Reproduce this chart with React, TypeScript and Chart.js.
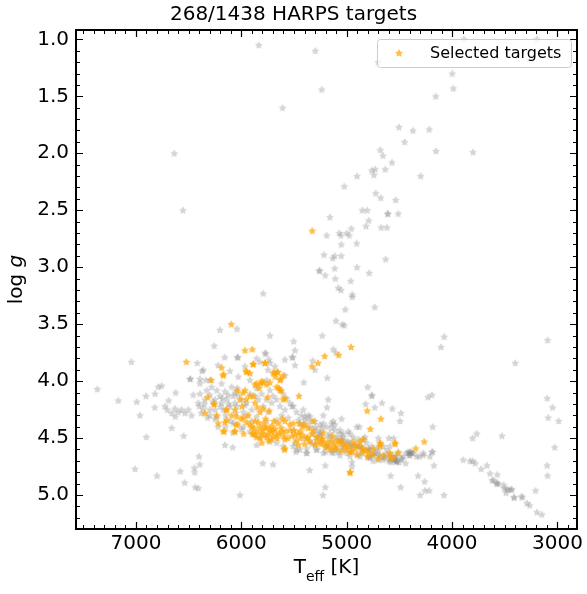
import React, { useEffect, useRef } from 'react';
import { Chart, registerables } from 'chart.js';

Chart.register(...registerables);

const TITLE = '268/1438 HARPS targets';
const LEGEND_LABEL = 'Selected targets';
const X_TITLE_MAIN = 'T';
const X_TITLE_SUB = 'eff';
const X_TITLE_UNIT = ' [K]';
const Y_TITLE_MAIN = 'log ';
const Y_TITLE_ITALIC = 'g';

const xMajorTicks = [7000, 6000, 5000, 4000, 3000];
const yMajorTicks = [1.0, 1.5, 2.0, 2.5, 3.0, 3.5, 4.0, 4.5, 5.0];
const xRange = [2814, 7569];
const yRange = [0.918, 5.298];
const xMinorStep = 100;
const yMinorStep = 0.1;

// [Teff, log g] of all HARPS targets (grey)
const allTargets: [number, number][] = [
  // giants / subgiants
  [5835, 1.05], [5298, 1.10], [5608, 1.60], [6636, 2.00], [6554, 2.50], [5260, 3.03], [5792, 3.23],
  [5237, 1.44], [4700, 1.20], [3887, 1.00], [3197, 1.00], [3998, 1.30], [3988, 1.43], [4155, 1.50],
  [4504, 1.77], [4371, 1.80], [4216, 1.79], [4450, 1.90], [4681, 1.97], [4656, 2.02], [4153, 1.98],
  [3801, 1.99], [4570, 2.08], [4763, 2.15], [4729, 2.14], [4634, 2.14], [4741, 2.19], [4902, 2.20],
  [4298, 2.20], [5023, 2.29], [4725, 2.35], [4677, 2.39], [4535, 2.41], [5159, 2.56], [4852, 2.50],
  [4805, 2.50], [4608, 2.53], [4612, 2.53], [4510, 2.53], [4791, 2.59], [4817, 2.64], [4672, 2.65],
  [4618, 2.65], [4956, 2.66], [5190, 2.72], [5070, 2.70], [5054, 2.72], [5000, 2.70], [4975, 2.72],
  [5051, 2.80], [4905, 2.79], [5215, 2.89], [5133, 2.92], [5114, 2.90], [5051, 2.90], [4630, 2.93],
  [5257, 3.03], [5203, 3.07], [5114, 3.01], [5108, 3.10], [4902, 3.00], [4786, 3.05], [4962, 3.12],
  [5080, 3.18], [5054, 3.20], [4947, 3.24], [4947, 3.26], [5013, 3.37], [4734, 3.35], [5102, 3.47],
  [5042, 3.50], [5023, 3.51], [5232, 3.60], [5503, 3.65], [5491, 3.73], [5516, 3.79], [5127, 3.72],
  [5102, 3.75], [5323, 3.82], [5301, 3.90], [5408, 4.01], [5184, 3.97], [5519, 4.22], [5175, 4.16],
  [5187, 4.23], [5048, 4.33], [4105, 3.70], [4074, 3.61], [3400, 3.84], [3093, 3.64], [3097, 4.15],
  [3046, 4.23], [3087, 4.32], [2988, 4.35], [3026, 4.58], [3097, 4.74], [3093, 4.83],
  // cool side of the main sequence
  [4801, 4.05], [4763, 4.13], [4760, 4.12], [4820, 4.20], [4734, 4.23], [4665, 4.19], [4567, 4.24],
  [4485, 4.28], [4494, 4.35], [4905, 4.40], [4880, 4.40], [4229, 4.14], [4191, 4.12], [4184, 4.40],
  [4700, 4.50], [4599, 4.50], [4554, 4.50], [4406, 4.63], [4311, 4.66], [4273, 4.65], [4188, 4.62],
  [4172, 4.74], [4323, 4.83], [4260, 4.88], [4302, 5.00], [4257, 4.96], [4216, 4.96], [4077, 5.00],
  [4488, 4.93], [4583, 4.83], [4532, 4.70], [4950, 4.71], [4950, 4.75], [5203, 4.74], [5351, 4.78],
  [5203, 4.93], [5225, 5.00], [5380, 4.63], [4399, 4.62], [4368, 4.63], [4406, 4.65], [4526, 4.71],
  [4580, 4.71], [4187, 4.62],
  // M dwarfs
  [3894, 4.69], [3830, 4.70], [3805, 4.70], [3780, 4.72], [3805, 4.50], [3766, 4.46], [3526, 4.48],
  [3723, 4.77], [3669, 4.74], [3640, 4.81], [3571, 4.82], [3609, 4.87], [3618, 4.87], [3577, 4.89],
  [3574, 4.90], [3561, 4.90], [3510, 4.91], [3504, 4.94], [3482, 4.95], [3463, 4.95], [3441, 4.95],
  [3431, 4.95], [3488, 4.98], [3412, 5.02], [3409, 5.02], [3333, 5.02], [3340, 5.01], [3289, 5.07],
  [3264, 5.09], [3207, 4.96], [3194, 5.15], [3147, 5.17],
  // hot side
  [7367, 4.07], [7168, 4.17], [6993, 4.18], [6962, 4.30], [6905, 4.13], [6819, 4.11], [6788, 4.05],
  [6756, 4.04], [6822, 4.23], [6690, 4.17], [6623, 4.10], [6703, 4.25], [6627, 4.31], [6661, 4.41],
  [6902, 4.49], [6547, 4.48], [7009, 4.77], [6800, 4.83], [6579, 4.79], [6538, 4.89], [6446, 4.76],
  [6443, 4.80], [6402, 4.66], [6395, 4.73], [6437, 4.93], [6408, 4.94], [6013, 5.00], [6155, 4.56],
  [6082, 4.58], [5797, 4.72], [5699, 4.73], [6487, 3.98], [6392, 3.98], [6338, 3.99], [6373, 3.91],
  [6221, 3.86], [7044, 3.83], [6418, 3.84], [6158, 3.79], [6038, 3.79], [6032, 3.79], [6257, 3.69],
  [5769, 3.76], [5737, 3.81], [5728, 3.60], [6202, 3.55], [6041, 3.54], [5773, 3.75], [6361, 3.90],
  [6484, 3.98], [5823, 3.83], [5747, 3.90], [5586, 3.95], [5513, 3.79], [5491, 3.86],
  // main sequence cluster
  [6630, 4.24], [6661, 4.28], [6566, 4.25], [6535, 4.28], [6472, 4.30], [6456, 4.12], [6393, 4.11],
  [6345, 4.16], [6329, 4.08], [6282, 4.05], [6234, 4.08], [6203, 4.13], [6155, 4.09], [6139, 4.16],
  [6092, 4.05], [6076, 4.13], [6060, 4.19], [6038, 4.06], [5997, 4.16], [5950, 4.19], [5918, 4.11],
  [5871, 4.13], [5855, 4.06], [5807, 4.11], [5760, 4.16], [5728, 4.08], [5697, 4.13], [5665, 4.16],
  [5602, 4.11], [5570, 4.15], [5539, 4.19], [5507, 4.22], [5475, 4.27], [5428, 4.30], [5396, 4.34],
  [5349, 4.31], [5301, 4.35], [5254, 4.38], [5222, 4.37], [5191, 4.40], [5143, 4.41], [5112, 4.38],
  [5064, 4.43], [5032, 4.46], [4985, 4.44], [4938, 4.49], [4890, 4.51], [4843, 4.51], [4811, 4.54],
  [4764, 4.57], [4716, 4.59], [4653, 4.57], [4590, 4.63], [4542, 4.66], [4511, 4.62], [4463, 4.66],
  [4384, 4.62], [4337, 4.66], [4273, 4.63], [4210, 4.66], [5855, 4.56], [5482, 4.62], [4969, 4.57],
  [5365, 4.30],
  [6298, 4.12], [6250, 4.16], [6187, 4.19], [6124, 4.12], [6029, 4.12], [5965, 4.21], [5902, 4.25],
  [5839, 4.16], [5792, 4.22], [5744, 4.27], [5712, 4.19], [5633, 4.22], [5618, 4.30], [5586, 4.25],
  [5554, 4.32], [5459, 4.34], [5412, 4.38], [5349, 4.40], [5286, 4.43], [5254, 4.46], [5159, 4.46],
  [5096, 4.49], [5048, 4.51], [5001, 4.53], [4906, 4.56], [4859, 4.59], [4795, 4.60], [4732, 4.63],
  [4684, 4.65], [4621, 4.60], [4574, 4.67], [4479, 4.68], [4432, 4.63], [4400, 4.65], [4590, 4.57],
  [4827, 4.49], [4969, 4.46], [5127, 4.35], [5222, 4.30], [5412, 4.25], [5665, 4.34], [5760, 4.35],
  [5855, 4.31], [5981, 4.27], [6045, 4.22], [6108, 4.22], [6171, 4.25], [6250, 4.25], [6298, 4.30],
  [6361, 4.24], [6408, 4.19], [6503, 4.25], [6598, 4.27], [6725, 4.22], [6234, 4.31], [6076, 4.37],
  [5981, 4.40], [5918, 4.44], [5823, 4.49], [5728, 4.53], [5665, 4.54], [5602, 4.57], [5507, 4.57],
  [5444, 4.60], [5380, 4.59], [5286, 4.60], [5222, 4.63], [5143, 4.62], [5064, 4.65], [4969, 4.66],
  [4874, 4.66], [4779, 4.67], [4653, 4.69], [4526, 4.70], [6029, 3.96], [6108, 3.91], [5965, 3.87],
  [5855, 3.80], [5728, 3.84], [5681, 3.87], [5586, 3.81], [5760, 3.99], [5918, 3.99], [6187, 4.02],
  [6298, 3.99], [6393, 4.02],
  [5400, 4.50], [5350, 4.52], [5300, 4.55], [5250, 4.53], [5200, 4.56], [5150, 4.58], [5100, 4.60],
  [5050, 4.57], [5000, 4.63], [4950, 4.60], [4900, 4.65], [4850, 4.63], [4800, 4.67], [4750, 4.65],
  [4700, 4.69], [4650, 4.67], [4600, 4.70], [4550, 4.69], [4500, 4.71], [5250, 4.48], [5150, 4.50],
  [5050, 4.52], [4960, 4.55], [4880, 4.58], [4780, 4.60], [4700, 4.61], [4620, 4.64], [4560, 4.66],
  [4480, 4.68], [4440, 4.72],
  [5506, 4.43], [5443, 4.37], [5396, 4.31], [5348, 4.35], [5317, 4.46], [5285, 4.49], [5237, 4.41],
  [5143, 4.37], [5111, 4.43], [5064, 4.46], [5032, 4.49], [4984, 4.53], [4937, 4.56], [4890, 4.57],
  [4842, 4.59], [4795, 4.60], [4747, 4.63], [4700, 4.65], [4637, 4.66], [4589, 4.68], [4542, 4.69],
  [4526, 4.66], [5475, 4.60], [5491, 4.54], [5380, 4.63], [5285, 4.60], [5190, 4.57], [5127, 4.63],
  [5032, 4.60], [4779, 4.66], [4747, 4.70], [4384, 4.63], [4415, 4.62],
  [6350, 4.20], [6300, 4.25], [6250, 4.33], [6200, 4.22], [6150, 4.30], [6100, 4.35], [6050, 4.28],
  [6320, 4.32], [6270, 4.18], [6220, 4.40], [6180, 4.15], [6120, 4.20], [6060, 4.10], [6400, 4.22],
  [6380, 4.28], [6150, 4.40], [6080, 4.45], [6000, 4.42], [5950, 4.30], [5900, 4.35], [5300, 4.40],
  [5250, 4.45], [5180, 4.48], [5100, 4.52], [5030, 4.55], [5330, 4.55], [5200, 4.62], [5080, 4.62],
];

// [Teff, log g] of the selected targets (orange)
const selectedTargets: [number, number][] = [
  [5327, 2.68], [6095, 3.50], [5965, 3.73], [5896, 3.72], [6522, 3.83], [6187, 3.88], [6168, 3.94],
  [5956, 3.91], [5886, 3.85], [5776, 3.84], [5656, 3.92], [5624, 3.98], [4959, 3.70], [5076, 3.77],
  [5209, 3.78], [5272, 3.84], [5329, 3.87], [5453, 4.13], [4805, 4.26], [4675, 4.33], [4776, 4.42],
  [4539, 4.55], [4345, 4.59], [4264, 4.53], [4510, 4.63], [4589, 4.67], [4681, 4.55], [4966, 4.80],
  [6319, 4.14], [6257, 4.20], [6345, 4.28], [6234, 4.30], [6144, 4.25], [6155, 4.36], [6162, 4.44],
  [6063, 4.44], [6035, 4.38], [5978, 4.46], [5896, 4.46], [5807, 4.54], [5592, 4.60], [6285, 3.99],
  [6174, 3.95], [5889, 3.85], [5773, 3.84], [5949, 3.92], [5687, 3.92], [5655, 3.92], [5870, 4.03],
  [5816, 4.02], [5792, 4.01], [5832, 4.06], [5728, 4.01], [5645, 4.06], [5621, 4.08], [5678, 3.96],
  [5602, 3.95], [6038, 4.08], [5984, 4.10], [5953, 4.16], [5918, 4.13], [5994, 4.22], [5848, 4.23],
  [5750, 4.14], [5735, 4.26], [5602, 4.16],
  [6260, 4.20], [6219, 4.37], [6139, 4.25], [6092, 4.30], [6139, 4.34], [6045, 4.31], [5981, 4.32],
  [5934, 4.30], [5918, 4.38], [5871, 4.35], [5823, 4.40], [5776, 4.41], [5744, 4.46], [5697, 4.43],
  [5649, 4.37], [5618, 4.44], [5886, 4.46], [5855, 4.49], [5807, 4.46], [5760, 4.49], [5712, 4.51],
  [5665, 4.47], [5586, 4.51], [5539, 4.43], [5491, 4.47], [5444, 4.44], [5396, 4.38], [5380, 4.50],
  [5459, 4.56], [5365, 4.41], [5317, 4.43], [5286, 4.49], [5238, 4.51], [5222, 4.54], [5175, 4.57],
  [5143, 4.53], [5112, 4.59], [5064, 4.54], [5017, 4.57], [4969, 4.62], [4922, 4.59], [4874, 4.53],
  [4843, 4.60], [4795, 4.63], [4748, 4.59], [4684, 4.54], [4653, 4.65], [4590, 4.63], [4558, 4.67],
  [4542, 4.54], [5823, 4.27], [5792, 4.24], [5886, 4.13], [5855, 4.02], [5807, 4.00], [5760, 4.03],
  [5665, 4.05], [5633, 4.08], [5697, 3.93], [5633, 3.99], [5586, 4.15], [5871, 4.19], [6060, 4.25],
  [6013, 4.16], [5965, 4.08], [5918, 3.93], [6171, 4.44], [6060, 4.44], [5586, 4.59], [5586, 4.35],
  [5507, 4.37], [5450, 4.37], [5418, 4.40], [5317, 4.35], [5222, 4.45], [5134, 4.48], [5058, 4.52],
  [4969, 4.80], [4684, 4.57], [4938, 4.53], [4843, 4.51],
  [5800, 4.43], [5780, 4.47], [5720, 4.44], [5700, 4.48], [5680, 4.42], [5760, 4.40], [5740, 4.52],
  [5820, 4.50], [5850, 4.44], [5660, 4.50], [5640, 4.46], [5600, 4.48], [5560, 4.50], [5520, 4.48],
  [5480, 4.52], [5440, 4.50], [5400, 4.55], [5350, 4.53], [5300, 4.56], [5250, 4.55], [5200, 4.58],
  [5150, 4.60], [5100, 4.58], [5050, 4.61], [5000, 4.60], [4950, 4.62], [4900, 4.64], [4850, 4.62],
  [4800, 4.66], [4750, 4.64], [4700, 4.68], [5900, 4.40], [5950, 4.36], [6000, 4.33], [6050, 4.38],
  [5870, 4.47], [5790, 4.37], [5710, 4.39], [5620, 4.41], [5580, 4.44], [5500, 4.43], [5460, 4.46],
  [5420, 4.47], [5370, 4.49], [5330, 4.46], [5280, 4.52], [5230, 4.50], [5180, 4.53], [5120, 4.55],
  [5080, 4.52], [5020, 4.55], [4980, 4.57], [4920, 4.56], [4870, 4.57], [4820, 4.60],
  [5840, 4.36], [5770, 4.33], [5690, 4.35], [5610, 4.33], [5540, 4.38], [5880, 4.41], [5730, 4.42],
];

const GREY = '#808080';
const GREY_ALPHA = 0.33;
const ORANGE = '#ffa500';
const ORANGE_ALPHA = 0.72;
const FONT = '"DejaVu Sans", "Liberation Sans", sans-serif';

function makeStar(color: string, alpha: number, R: number): HTMLCanvasElement {
  const size = 10;
  const solid = document.createElement('canvas');
  solid.width = size;
  solid.height = size;
  const c = solid.getContext('2d') as CanvasRenderingContext2D;
  const cx = size / 2;
  const cy = size / 2 + R * 0.1;
  c.beginPath();
  for (let i = 0; i < 10; i++) {
    const r = i % 2 === 0 ? R : R * 0.42;
    const ang = -Math.PI / 2 + (i * Math.PI) / 5;
    const px = cx + r * Math.cos(ang);
    const py = cy + r * Math.sin(ang);
    if (i === 0) c.moveTo(px, py);
    else c.lineTo(px, py);
  }
  c.closePath();
  c.fillStyle = color;
  c.fill();
  c.lineWidth = 1.3;
  c.lineJoin = 'round';
  c.strokeStyle = color;
  c.stroke();
  const out = document.createElement('canvas');
  out.width = size;
  out.height = size;
  const d = out.getContext('2d') as CanvasRenderingContext2D;
  d.globalAlpha = alpha;
  d.drawImage(solid, 0, 0);
  return out;
}

export default function App() {
  const ref = useRef<HTMLCanvasElement | null>(null);

  useEffect(() => {
    const canvas = ref.current;
    if (!canvas) return;
    const greyStar = makeStar(GREY, GREY_ALPHA, 3.1);
    const orangeStar = makeStar(ORANGE, ORANGE_ALPHA, 3.1);

    const decorPlugin = {
      id: 'decor',
      afterDatasetsDraw(chart: any) {
        const { ctx, chartArea } = chart;
        const { left, right, top, bottom } = chartArea;
        const xs = chart.scales.x;
        const ys = chart.scales.y;
        ctx.save();
        ctx.strokeStyle = '#000';
        for (let k = Math.ceil(xRange[0] / xMinorStep); k * xMinorStep <= xRange[1]; k++) {
          const v = k * xMinorStep;
          const major = xMajorTicks.includes(v);
          const len = major ? 7 : 4;
          const p = Math.round(xs.getPixelForValue(v)) + 0.5;
          ctx.lineWidth = major ? 1.2 : 1;
          ctx.beginPath();
          ctx.moveTo(p, bottom);
          ctx.lineTo(p, bottom - len);
          ctx.moveTo(p, top);
          ctx.lineTo(p, top + len);
          ctx.stroke();
        }
        for (let k = Math.ceil(yRange[0] / yMinorStep - 1e-9); k * yMinorStep <= yRange[1] + 1e-9; k++) {
          const v = Math.round(k * yMinorStep * 10) / 10;
          const major = yMajorTicks.some((t) => Math.abs(t - v) < 1e-6);
          const len = major ? 7 : 4;
          const p = Math.round(ys.getPixelForValue(v)) + 0.5;
          ctx.lineWidth = major ? 1.2 : 1;
          ctx.beginPath();
          ctx.moveTo(left, p);
          ctx.lineTo(left + len, p);
          ctx.moveTo(right, p);
          ctx.lineTo(right - len, p);
          ctx.stroke();
        }
        ctx.lineWidth = 2;
        ctx.strokeRect(left, top, right - left, bottom - top);
        ctx.restore();
      },
      afterDraw(chart: any) {
        const { ctx, chartArea } = chart;
        const { left, right, top, bottom } = chartArea;
        ctx.save();
        ctx.fillStyle = '#000';
        ctx.font = `20px ${FONT}`;
        ctx.textAlign = 'center';
        ctx.textBaseline = 'alphabetic';
        ctx.fillText(TITLE, chart.width / 2, 20);

        ctx.textAlign = 'left';
        const bigFont = `20px ${FONT}`;
        const subFont = `14px ${FONT}`;
        ctx.font = bigFont;
        const wT = ctx.measureText(X_TITLE_MAIN).width;
        const wU = ctx.measureText(X_TITLE_UNIT).width;
        ctx.font = subFont;
        const wS = ctx.measureText(X_TITLE_SUB).width;
        const total = wT + wS + wU;
        let xPos = (left + right) / 2 - total / 2;
        const base = 573;
        ctx.font = bigFont;
        ctx.fillText(X_TITLE_MAIN, xPos, base);
        xPos += wT;
        ctx.font = subFont;
        ctx.fillText(X_TITLE_SUB, xPos, base + 8);
        xPos += wS;
        ctx.font = bigFont;
        ctx.fillText(X_TITLE_UNIT, xPos, base);

        ctx.save();
        ctx.translate(22, (top + bottom) / 2);
        ctx.rotate(-Math.PI / 2);
        ctx.font = bigFont;
        const wL = ctx.measureText(Y_TITLE_MAIN).width;
        ctx.font = `italic 20px ${FONT}`;
        const wG = ctx.measureText(Y_TITLE_ITALIC).width;
        let yPos = -(wL + wG) / 2;
        ctx.font = bigFont;
        ctx.fillText(Y_TITLE_MAIN, yPos, 0);
        yPos += wL;
        ctx.font = `italic 20px ${FONT}`;
        ctx.fillText(Y_TITLE_ITALIC, yPos, 0);
        ctx.restore();

        const bx = 377;
        const by = 39;
        const bw = 194;
        const bh = 28;
        ctx.beginPath();
        ctx.roundRect(bx + 0.5, by + 0.5, bw, bh, 3);
        ctx.fillStyle = 'rgba(255,255,255,0.8)';
        ctx.fill();
        ctx.strokeStyle = '#cccccc';
        ctx.lineWidth = 1;
        ctx.stroke();
        ctx.drawImage(orangeStar, 399 - orangeStar.width / 2, by + bh / 2 - orangeStar.height / 2);
        ctx.fillStyle = '#000';
        ctx.font = `16px ${FONT}`;
        ctx.textAlign = 'left';
        ctx.textBaseline = 'alphabetic';
        ctx.fillText(LEGEND_LABEL, 430, 58);
        ctx.restore();
      },
    };

    const chart = new Chart(canvas, {
      type: 'scatter',
      data: {
        datasets: [
          {
            label: LEGEND_LABEL,
            data: selectedTargets.map(([x, y]) => ({ x, y })),
            pointStyle: orangeStar as any,
            pointRadius: 4,
            order: 0,
          },
          {
            label: 'All targets',
            data: allTargets.map(([x, y]) => ({ x, y })),
            pointStyle: greyStar as any,
            pointRadius: 4,
            order: 1,
          },
        ],
      },
      options: {
        animation: false,
        responsive: false,
        events: [],
        layout: { padding: { top: 30, right: 10, left: 0, bottom: 0 } },
        plugins: {
          legend: { display: false },
          tooltip: { enabled: false },
          title: { display: false },
        },
        scales: {
          x: {
            type: 'linear',
            reverse: true,
            min: xRange[0],
            max: xRange[1],
            grid: { display: false, drawTicks: false },
            border: { display: false },
            ticks: {
              color: '#000',
              font: { family: FONT, size: 20 },
              padding: 3,
              maxRotation: 0,
              autoSkip: false,
              callback: (v: any) => String(v),
            },
            afterBuildTicks: (s: any) => {
              s.ticks = xMajorTicks.map((v) => ({ value: v }));
            },
            afterFit: (s: any) => {
              s.height = 65;
            },
          },
          y: {
            type: 'linear',
            reverse: true,
            min: yRange[0],
            max: yRange[1],
            grid: { display: false, drawTicks: false },
            border: { display: false },
            ticks: {
              color: '#000',
              font: { family: FONT, size: 20 },
              padding: 7,
              autoSkip: false,
              callback: (v: any) => Number(v).toFixed(1),
            },
            afterBuildTicks: (s: any) => {
              s.ticks = yMajorTicks.map((v) => ({ value: v }));
            },
            afterFit: (s: any) => {
              s.width = 76;
            },
          },
        },
      },
      plugins: [decorPlugin],
    });

    return () => {
      chart.destroy();
    };
  }, []);

  return (
    <div style={{ position: 'absolute', left: 0, top: 0, width: 587, height: 594, background: '#fff' }}>
      <canvas ref={ref} width={587} height={594} style={{ display: 'block', width: 587, height: 594 }} />
    </div>
  );
}
